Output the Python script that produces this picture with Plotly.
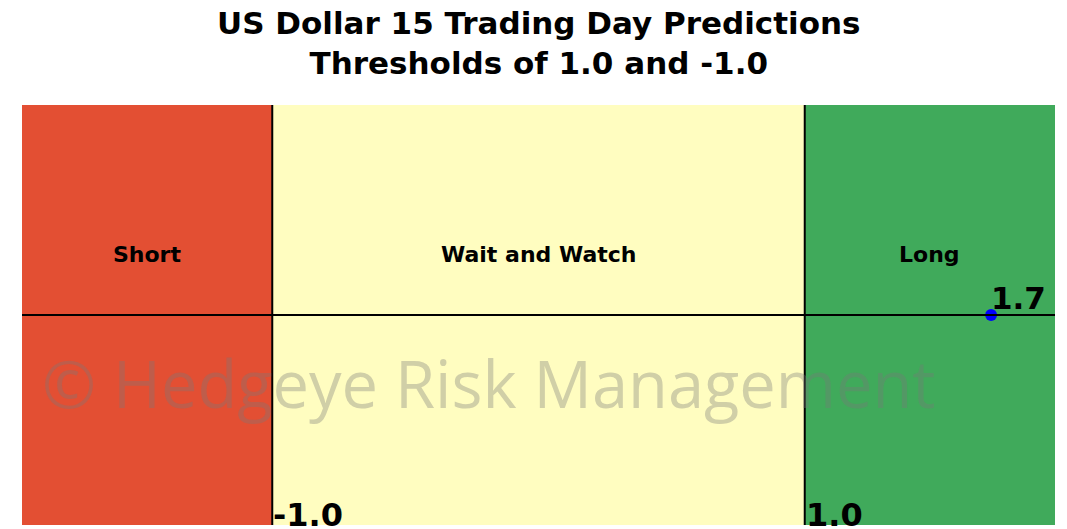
import plotly.graph_objects as go

# Prediction and threshold values
lower_threshold = -1.0
upper_threshold = 1.0
prediction = 1.7
x_limits = [-1.94, 1.94]
y_limits = [-1.0, 1.0]

zone_names = ["Short", "Wait and Watch", "Long"]
zone_colors = ["#E34F33", "#FFFDC0", "#40AA5B"]
zone_edges = [x_limits[0], lower_threshold, upper_threshold, x_limits[1]]

fig = go.Figure()

# Colored zones
for i, (name, color) in enumerate(zip(zone_names, zone_colors)):
    x0, x1 = zone_edges[i], zone_edges[i + 1]
    fig.add_shape(type="rect", x0=x0, x1=x1, y0=y_limits[0], y1=y_limits[1],
                  xref="x", yref="y", fillcolor=color, line=dict(width=0), layer="below")
    fig.add_annotation(x=(x0 + x1) / 2, y=0.29, text=f"<b>{name}</b>", showarrow=False,
                       font=dict(family="DejaVu Sans", size=22, color="black"))

# Threshold lines and zero line
for t in (lower_threshold, upper_threshold):
    fig.add_shape(type="line", x0=t, x1=t, y0=y_limits[0], y1=y_limits[1],
                  xref="x", yref="y", line=dict(color="black", width=2))
    fig.add_annotation(x=t, y=y_limits[0], text=f"<b>{t:.1f}</b>", showarrow=False,
                       xanchor="left", yanchor="bottom", yshift=-11, xshift=-1,
                       font=dict(family="DejaVu Sans", size=32, color="black"))
fig.add_shape(type="line", x0=x_limits[0], x1=x_limits[1], y0=0, y1=0,
              xref="x", yref="y", line=dict(color="black", width=2))

# Watermark
fig.add_annotation(x=0.452, y=0.228, xref="paper", yref="paper",
                   text="© Hedgeye Risk Management", showarrow=False,
                   font=dict(family="Open Sans", size=65, color="rgba(120,120,120,0.35)"))

# Prediction point
fig.add_trace(go.Scatter(x=[prediction], y=[0], mode="markers",
                         marker=dict(color="blue", size=12), showlegend=False, hoverinfo="skip"))
fig.add_annotation(x=prediction, y=0, text=f"<b>{prediction:.1f}</b>", showarrow=False,
                   xanchor="left", yanchor="bottom", xshift=-2, yshift=-3,
                   font=dict(family="DejaVu Sans", size=31, color="black"))

# Two-line title
fig.add_annotation(x=0.5, y=1 + (105 - 43) / 420, xref="paper", yref="paper",
                   text="<b>US Dollar 15 Trading Day Predictions<br>Thresholds of 1.0 and -1.0</b>",
                   showarrow=False, xanchor="center", yanchor="middle",
                   font=dict(family="DejaVu Sans", size=31, color="black"))

fig.update_layout(
    width=1067, height=529,
    margin=dict(l=22, r=12, t=105, b=4),
    paper_bgcolor="white", plot_bgcolor="white",
    xaxis=dict(range=x_limits, visible=False, fixedrange=True),
    yaxis=dict(range=y_limits, visible=False, fixedrange=True),
)

fig.write_html("out.html")
